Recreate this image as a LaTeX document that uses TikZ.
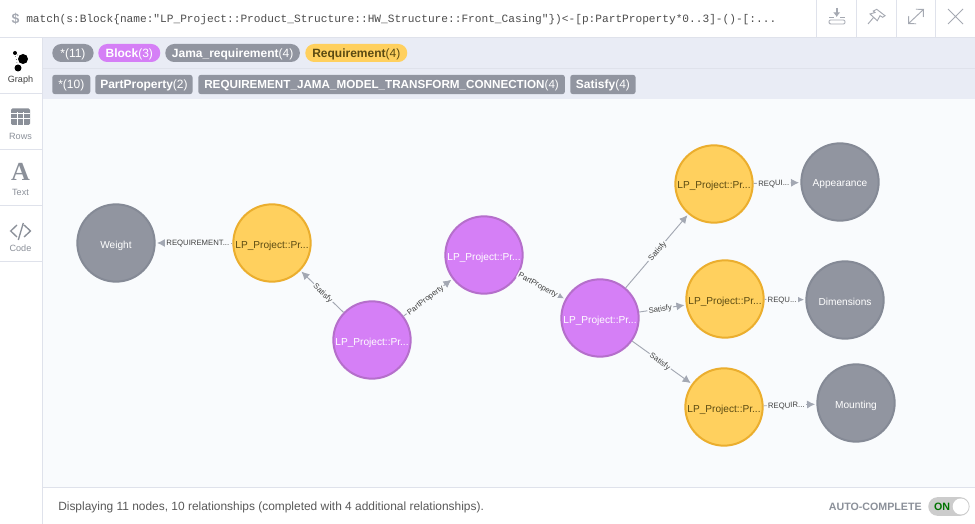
\documentclass[tikz,border=0pt]{standalone}
\usepackage{fontspec}
\setmainfont{Liberation Sans}
\setmonofont{Liberation Mono}
\newfontfamily\iconserif{Liberation Serif}
\usetikzlibrary{arrows.meta}
\definecolor{panelbg}{HTML}{E9ECF5}
\definecolor{graphbg}{HTML}{F9FBFD}
\definecolor{rulecol}{HTML}{DFE2EB}
\definecolor{greyfill}{HTML}{9195A0}
\definecolor{greyline}{HTML}{858A96}
\definecolor{blockfill}{HTML}{D57FF6}
\definecolor{blockline}{HTML}{B56FCB}
\definecolor{reqfill}{HTML}{FFD05E}
\definecolor{reqline}{HTML}{EBAE2E}
\definecolor{reqtext}{HTML}{5A4A12}
\definecolor{relcol}{HTML}{A3A8B3}
\definecolor{iconcol}{HTML}{8B9099}
\definecolor{toolcol}{HTML}{A5A9B2}
\tikzset{
  vertex/.style={circle,draw,line width=1.5pt,minimum size=58pt,inner sep=0pt,text height=7.5pt,text depth=0pt,font=\fontsize{7.6}{9}\selectfont},
  greyvertex/.style={vertex,fill=greyfill,draw=greyline,text=white},
  blockvertex/.style={vertex,fill=blockfill,draw=blockline,text=white},
  reqvertex/.style={vertex,fill=reqfill,draw=reqline,text=reqtext},
  rel/.style={draw=relcol,line width=0.7pt,-{Latex[length=6pt,width=6pt]},shorten >=1pt},
  rellabel/.style={fill=graphbg,inner sep=1pt,sloped,text height=4.4pt,text depth=0pt,text=black!75,font=\fontsize{5.8}{7}\selectfont},
  pill/.style={anchor=west,inner sep=0pt,minimum height=13.5pt,rounded corners=6.7pt,text height=6.6pt,text depth=0pt,text=white,font=\fontsize{9}{10}\selectfont},
  tag/.style={pill,rounded corners=2pt,minimum height=14.5pt},
  tabname/.style={text=iconcol,font=\fontsize{6.8}{8}\selectfont},
  toolicon/.style={draw=toolcol,line width=0.7pt},
}
\begin{document}
\begin{tikzpicture}[x=0.75pt,y=-0.75pt]
  \useasboundingbox (0,0) rectangle (975,524);
  % panels
  \fill[white] (0,0) rectangle (975,524);
  \fill[panelbg] (43,38) rectangle (975,99);
  \fill[graphbg] (43,99) rectangle (975,487);
  \draw[rulecol] (0,37.5) -- (975,37.5);
  \draw[rulecol] (43,68.5) -- (975,68.5);
  \draw[rulecol] (43,487.5) -- (975,487.5);
  \draw[rulecol] (42.5,38) -- (42.5,524);
  \foreach \x in {816,856,896,935}
    \draw[rulecol] (\x.5,0) -- (\x.5,37);
  \foreach \y in {93,149,205,261}
    \draw[rulecol] (0,\y.5) -- (42,\y.5);

  % query
  \node[anchor=west,inner sep=0pt,text=toolcol,font=\bfseries\ttfamily\fontsize{10.5}{11}\selectfont] (prompt) at (11,19) {\$};
  \node[anchor=west,inner sep=0pt,text=black!70,font=\ttfamily\fontsize{8.37}{10}\selectfont] (query) at (26,20)
    {match(s:Block\{name:"LP\_Project::Product\_Structure::HW\_Structure::Front\_Casing"\})<-[p:PartProperty*0..3]-()-[:...};

  % top right icons
  \draw[toolicon,rounded corners=1pt] (829,20) rectangle (845,24);
  \draw[toolicon] (829,17.5) -- (834,17.5) (840,17.5) -- (845,17.5);
  \draw[toolicon,line width=1.2pt,-{Latex[length=3.5pt,width=5.5pt]}] (836.7,8) -- (836.7,17);
  \draw[toolicon] (876.7,9.3) -- (885,15.7) -- (882.7,17.3) -- (880,15.7) -- (877.3,20.7) -- (870,14) -- (875,12.5) -- (873.3,11) -- cycle;
  \draw[toolicon] (873.5,17.5) -- (868,24);
  \draw[toolicon,{Straight Barb[length=4pt,width=8pt]}-{Straight Barb[length=4pt,width=8pt]}] (908,24) -- (924,9);
  \draw[toolicon] (948,9) -- (963,24) (963,9) -- (948,24);

  % sidebar
  \fill[black] (23,59) circle (5);
  \fill[black] (18,68) circle (3.5);
  \fill[black] (15,53) circle (2);
  \draw[black,dotted] (15,53) -- (23,59) (15,53) -- (18,68);
  \node[tabname,text=black!75] (graph tab) at (20.5,80) {Graph};
  \fill[iconcol,rounded corners=1pt] (11,108.5) rectangle (30,125);
  \foreach \x in {17.3,23.5}
    \draw[white,line width=0.6pt] (\x,112.5) -- (\x,125);
  \foreach \y in {113,118.8}
    \draw[white,line width=0.6pt] (11,\y) -- (30,\y);
  \node[tabname] (rows tab) at (20.5,136) {Rows};
  \node[text=iconcol,inner sep=0pt,font=\iconserif\bfseries\fontsize{19.5}{20}\selectfont] (text icon) at (20.5,172) {A};
  \node[tabname] (text tab) at (20.5,192) {Text};
  \draw[iconcol,line width=1pt] (17,225) -- (10.7,231) -- (17,237) (24,225) -- (30.5,231) -- (24,237) (23.3,223) -- (18.3,240);
  \node[tabname] (code tab) at (20.5,248) {Code};

  % labels row
  \node[pill,fill=greyfill,minimum width=31pt] (all nodes) at (52,53) {*(11)};
  \node[pill,fill=blockfill,minimum width=46.5pt] (block pill) at (98,53) {\textbf{Block}(3)};
  \node[pill,fill=greyfill,minimum width=101pt] (jama pill) at (165,53) {\textbf{Jama\_requirement}(4)};
  \node[pill,fill=reqfill,minimum width=76.5pt,text=reqtext] (req pill) at (305,53) {\textbf{Requirement}(4)};

  % types row
  \node[tag,fill=greyfill,minimum width=28.5pt] (all rels) at (52,84.5) {*(10)};
  \node[tag,fill=greyfill,minimum width=73pt] (part tag) at (95,84.5) {\textbf{PartProperty}(2)};
  \node[tag,fill=greyfill,minimum width=275pt,font=\fontsize{8.75}{10}\selectfont] (transform tag) at (198,84.5) {\textbf{REQUIREMENT\_JAMA\_MODEL\_TRANSFORM\_CONNECTION}(4)};
  \node[tag,fill=greyfill,minimum width=49pt] (satisfy tag) at (570,84.5) {\textbf{Satisfy}(4)};

  % nodes
  \node[greyvertex] (weight) at (116,243) {Weight};
  \node[reqvertex] (req a) at (272,243) {LP\_Project::Pr...};
  \node[blockvertex] (block a) at (372,340) {LP\_Project::Pr...};
  \node[blockvertex] (block b) at (484,255) {LP\_Project::Pr...};
  \node[blockvertex] (block c) at (600,318) {LP\_Project::Pr...};
  \node[reqvertex] (req b) at (714,184) {LP\_Project::Pr...};
  \node[reqvertex] (req c) at (725,299) {LP\_Project::Pr...};
  \node[reqvertex] (req d) at (724,407) {LP\_Project::Pr...};
  \node[greyvertex] (appearance) at (840,182) {Appearance};
  \node[greyvertex] (dimensions) at (845,300) {Dimensions};
  \node[greyvertex] (mounting) at (856,403) {Mounting};

  % relationships
  \draw[rel] (req a) -- node[rellabel,pos=.45] (rel a) {REQUIREMENT...} (weight);
  \draw[rel] (block a) -- node[rellabel,pos=.47] (rel b) {Satisfy} (req a);
  \draw[rel] (block a) -- node[rellabel,pos=.44] (rel c) {PartProperty} (block b);
  \draw[rel] (block b) -- node[rellabel,pos=.42] (rel d) {PartProperty} (block c);
  \draw[rel] (block c) -- node[rellabel] (rel e) {Satisfy} (req b);
  \draw[rel] (block c) -- node[rellabel,pos=.45] (rel f) {Satisfy} (req c);
  \draw[rel] (block c) -- node[rellabel,pos=.47] (rel g) {Satisfy} (req d);
  \draw[rel] (req b) -- node[rellabel,pos=.43] (rel h) {REQUI...} (appearance);
  \draw[rel] (req c) -- node[rellabel,pos=.43] (rel i) {REQU...} (dimensions);
  \draw[rel] (req d) -- node[rellabel,pos=.43] (rel j) {REQUIR...} (mounting);

  % status bar
  \node[anchor=west,inner sep=0pt,text=black!65,font=\fontsize{8.95}{10}\selectfont] (status) at (58,507)
    {Displaying 11 nodes, 10 relationships (completed with 4 additional relationships).};
  \node[anchor=east,inner sep=0pt,text=iconcol,font=\bfseries\fontsize{8}{10}\selectfont] (auto label) at (922,507) {AUTO-COMPLETE};
  \node[anchor=west,inner sep=0pt,minimum width=31pt,minimum height=14pt,rounded corners=7pt,fill=black!20] (toggle) at (928,506.5) {};
  \node[inner sep=0pt,text=green!45!black,font=\bfseries\fontsize{8}{10}\selectfont] (toggle text) at (942,507) {ON};
  \node[circle,fill=white,minimum size=12pt,inner sep=0pt] (toggle knob) at (960.7,506.5) {};
\end{tikzpicture}
\end{document}
